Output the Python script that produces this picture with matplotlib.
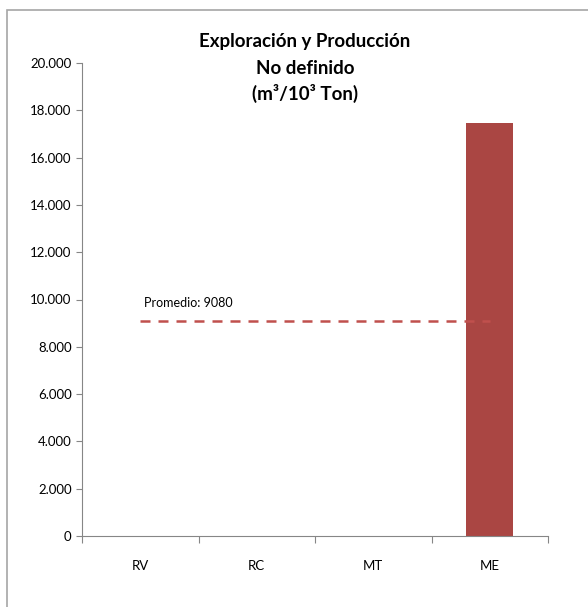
import matplotlib.pyplot as plt
from matplotlib.patches import Rectangle
from matplotlib.ticker import FuncFormatter

categories = ['RV', 'RC', 'MT', 'ME']
values = [0, 0, 0, 17450]
promedio = 9080

plt.rcParams['font.family'] = ['Lato', 'DejaVu Sans']

fig = plt.figure(figsize=(5.88, 6.07), dpi=100)
W, H = 588, 607

# chart frame (right and bottom edges fall outside the picture)
fig.patches.append(Rectangle((7 / W, -0.1), 1.2, 1.1 - 10 / H, transform=fig.transFigure,
                             fill=False, edgecolor='#a6a6a6', linewidth=1.2))

ax = fig.add_axes([82 / W, (H - 536) / H, (548 - 82) / W, (536 - 63) / H])
x = range(len(categories))
ax.bar(x, values, width=0.4, color='#aa4643')
ax.plot([0, 3], [promedio, promedio], color='#c0504d', linestyle=(0, (4, 3.2)), linewidth=1.8)
ax.text(0.03, promedio + 520, 'Promedio: %d' % promedio, fontsize=9, va='bottom', ha='left')

ax.set_xlim(-0.5, 3.5)
ax.set_ylim(0, 20000)
ax.set_yticks(range(0, 20001, 2000))
ax.yaxis.set_major_formatter(FuncFormatter(lambda v, p: f'{int(v):,}'.replace(',', '.')))
ax.set_xticks([-0.5, 0.5, 1.5, 2.5, 3.5])
ax.set_xticklabels([])
for i, c in enumerate(categories):
    ax.text(i, -1000, c, ha='center', va='top', fontsize=9.5)

for s in ['top', 'right']:
    ax.spines[s].set_visible(False)
for s in ['left', 'bottom']:
    ax.spines[s].set_color('#868686')
ax.tick_params(axis='both', colors='#868686', length=4, labelcolor='black', labelsize=9.5)
ax.tick_params(axis='x', length=5)

fig.text(305 / W, 1 - 42 / H, 'Exploración y Producción', ha='center', va='center',
         fontsize=13.5, fontweight='bold')
fig.text(305 / W, 1 - 68 / H, 'No definido', ha='center', va='center',
         fontsize=13.5, fontweight='bold')
fig.text(305 / W, 1 - 93 / H, '(m³/10³ Ton)', ha='center', va='center',
         fontsize=13.5, fontweight='bold')

fig.savefig('out.png', dpi=100)
